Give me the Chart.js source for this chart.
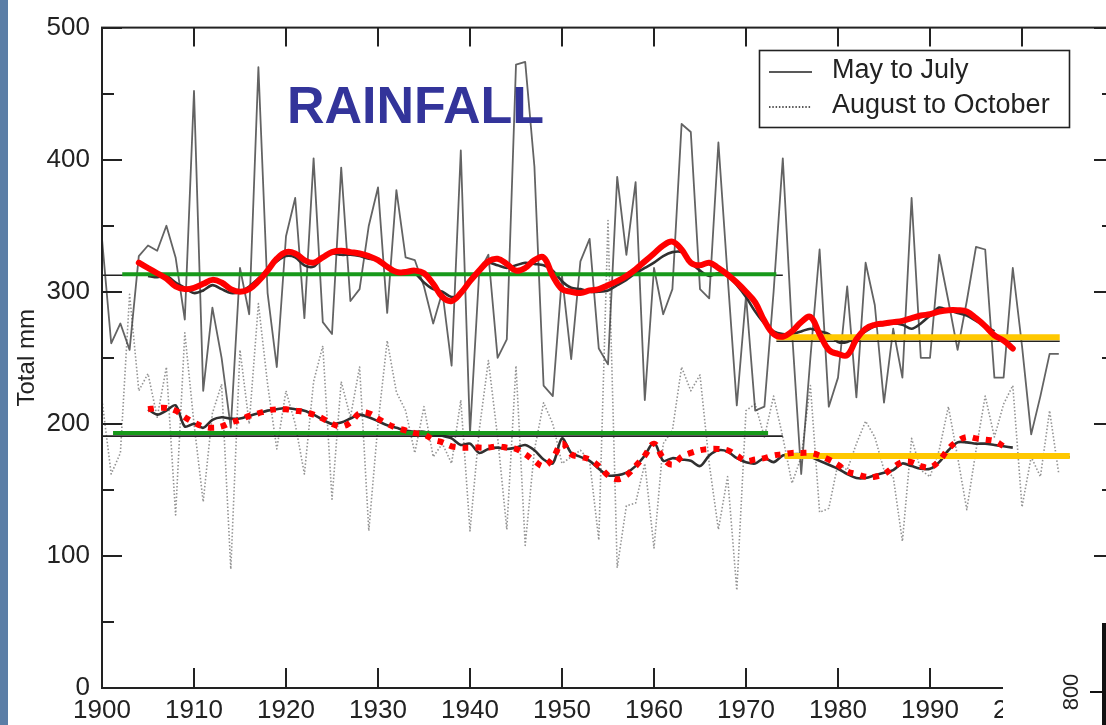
<!DOCTYPE html>
<html><head><meta charset="utf-8">
<script src="https://cdn.jsdelivr.net/npm/chart.js@4"></script>
<style>html,body{margin:0;padding:0;overflow:hidden;background:#fff;width:1106px;height:725px}canvas{display:block}</style>
</head><body><canvas id="c" width="1130" height="725"></canvas>
<script>
const FONT = "'Liberation Sans', Arial, Helvetica, sans-serif";

// Annual totals (mm)
const annualYears = [1900,1901,1902,1903,1904,1905,1906,1907,1908,1909,1910,1911,1912,1913,1914,1915,1916,1917,1918,1919,
1920,1921,1922,1923,1924,1925,1926,1927,1928,1929,1930,1931,1932,1933,1934,1935,1936,1937,1938,1939,
1940,1941,1942,1943,1944,1945,1946,1947,1948,1949,1950,1951,1952,1953,1954,1955,1956,1957,1958,1959,
1960,1961,1962,1963,1964,1965,1966,1967,1968,1969,1970,1971,1972,1973,1974,1975,1976,1977,1978,1979,
1980,1981,1982,1983,1984,1985,1986,1987,1988,1989,1990,1991,1992,1993,1994,1995,1996,1997,1998,1999,
2000,2001,2002,2003,2004];
const mayToJuly = [340,261,276,256,327,335,331,350,326,279, 452,225,288,250,197,318,283,470,299,243,
342,371,280,401,277,268,394,293,302,350, 379,284,377,326,324,304,276,300,244,407,
193,315,328,250,264,472,474,395,229,221, 312,249,323,340,257,245,387,328,383,218,
318,283,302,427,421,302,295,413,312,214, 297,210,213,300,401,270,162,250,332,213,
235,304,220,322,290,216,272,235,371,250, 250,328,293,256,293,334,332,235,235,318,
259,192,221,253,253];
const augToOct = [218,162,178,298,225,238,205,243,131,269, 200,141,208,230,90,256,200,291,230,181,
225,200,162,232,259,143,232,205,243,119, 200,263,224,210,178,213,175,185,170,218,
119,195,248,190,120,244,108,180,216,200, 170,175,180,172,112,354,91,138,140,170,
106,185,195,243,225,237,170,120,160,74, 210,215,190,221,190,155,175,229,133,136,
170,165,185,202,190,165,160,111,189,165, 160,180,213,175,135,180,221,190,215,229,
137,175,160,210,162];

// Smoothed curves (first year + yearly values)
const blackUpperStart = 1905;
const blackUpper = [312,311,312,307,303, 299,301,305,302,299,300,304,310,317,323,
327,326,320,319,326,329,328,328,327,325, 324,319,314,315,314,307,302,300,296,298,
308,316,322,320,318,320,322,321,320,316, 308,303,302,300,300,301,305,309,314,318,
322,327,330,330,322,316,312,314,312,305, 296,285,276,270,268,268,270,272,270,268,
262,262,266,270,274,275,276,275,272,276, 282,288,286,284,282,278,274,270];
const blackLowerStart = 1905;
const blackLower = [211,207,210,214,198, 200,197,203,205,204,204,206,208,210,211,
212,211,210,207,203,200,201,204,207,205, 202,199,197,195,194,194,192,191,189,184,
185,178,181,182,181,182,184,180,173,170, 189,178,175,172,166,161,161,163,168,176,
186,172,174,173,172,168,176,180,179,174, 171,170,174,171,176,177,177,175,172,169,
166,162,159,159,161,163,165,170,168,166, 166,171,180,186,186,185,185,184,183,182];
const redUpperStart = 1904;
const redUpper = [322,318,314,310,304,302, 303,306,309,307,302,300,302,308,316,325,
330,329,324,322,326,330,331,330,329,327, 324,319,315,315,316,314,306,296,293,299,
308,316,323,325,321,316,318,324,326,312, 302,300,299,301,302,305,308,312,317,323,
329,335,338,332,322,320,322,318,313,307, 300,292,278,268,266,270,277,281,268,256,
253,252,264,272,275,276,277,278,280,282, 283,285,286,286,285,280,274,267,263,257];
const redLowerStart = 1905;
const redLower = [211,212,212,210,205, 201,198,197,198,201,203,206,208,210,211,
211,210,209,207,204,200,198,201,208,208, 204,200,197,195,193,192,188,186,183,182,
182,182,182,183,182,181,177,172,168,174, 185,177,175,173,168,161,158,161,168,176,
185,174,169,175,178,180,181,181,180,176, 172,173,174,176,177,178,178,178,176,173,
169,164,162,160,160,162,167,171,171,168, 167,172,181,187,190,189,188,187,183];

// Period means: [fromYear, toYear, mm]
const blackMeans = [[1900,1974,312.5],[1900,1974,190.7],[1973.3,2004.1,262.5],[1974.2,2005.2,175]];
const greenMeans = [[1902.2,1973.3,313.3],[1901.2,1972.4,193]];
const yellowMeans = [[1973.3,2004.1,265.5],[1974.2,2005.2,175.7]];

const xTicks = [1900,1910,1920,1930,1940,1950,1960,1970,1980,1990,2000];
const legendLabels = ['May to July','August to October'];

const pairs = (ys, vs) => ys.map((yr,i)=>({x:yr,y:vs[i]}));
const series = (start, vs) => vs.map((v,i)=>({x:start+i,y:v}));
const seg = m => [{x:m[0],y:m[2]},{x:m[1],y:m[2]}];

const datasets = [];
datasets.push({label:legendLabels[0], data:pairs(annualYears,mayToJuly), borderColor:'rgba(55,55,55,0.78)', borderWidth:1.8, order:9});
datasets.push({label:legendLabels[1], data:pairs(annualYears,augToOct), borderColor:'rgba(80,80,80,0.62)', borderWidth:1.6, borderDash:[1.5,2], order:10});
datasets.push({label:'smooth1', data:series(blackUpperStart,blackUpper), borderColor:'#303030', borderWidth:2.6, tension:0.3, order:7});
datasets.push({label:'smooth2', data:series(blackLowerStart,blackLower), borderColor:'#303030', borderWidth:2.6, tension:0.3, order:7});
blackMeans.forEach((m,i)=>datasets.push({label:'bm'+i, data:seg(m), borderColor:'#222', borderWidth:1.6, order:6}));
greenMeans.forEach((m,i)=>datasets.push({label:'gm'+i, data:seg(m), borderColor:'#17991a', borderWidth:4, order:5}));
yellowMeans.forEach((m,i)=>datasets.push({label:'ym'+i, data:seg(m), borderColor:'#ffc800', borderWidth:6, order:4}));
datasets.push({label:'red1', data:series(redUpperStart,redUpper), borderColor:'#ff0000', borderWidth:6, tension:0.4, order:1, borderCapStyle:'round', borderJoinStyle:'round'});
datasets.push({label:'red2', data:series(redLowerStart,redLower), borderColor:'#ff0000', borderWidth:6, tension:0.4, borderDash:[6,7], order:2});

const framePlugin = {
  id:'frame',
  afterDatasetsDraw(chart){
    const {ctx, chartArea:a, scales:{x,y}} = chart;
    ctx.save();
    ctx.strokeStyle='#222'; ctx.lineWidth=2;
    ctx.strokeRect(a.left, a.top, a.right-a.left, a.bottom-a.top);
    ctx.beginPath();
    x.ticks.forEach(t=>{const px=Math.round(x.getPixelForValue(t.value));
      ctx.moveTo(px,a.bottom); ctx.lineTo(px,a.bottom-20); ctx.moveTo(px,a.top); ctx.lineTo(px,a.top+19);});
    y.ticks.forEach(t=>{const py=Math.round(y.getPixelForValue(t.value)); const L=(t.value%100===0)?20:12;
      ctx.moveTo(a.left,py); ctx.lineTo(a.left+L,py); ctx.moveTo(a.right,py); ctx.lineTo(a.right-L,py);});
    ctx.stroke();
    ctx.restore();
  },
  afterDraw(chart){
    const ctx = chart.ctx;
    ctx.save();
    // left stripe
    ctx.fillStyle='#5b7ea6'; ctx.fillRect(0,0,8,725);
    // title
    ctx.fillStyle='#33349a'; ctx.font='bold 52px '+FONT; ctx.textBaseline='alphabetic'; ctx.textAlign='left';
    ctx.fillText('RAINFALL',287,123);
    // legend
    ctx.fillStyle='#fff'; ctx.fillRect(759,50,311,78);
    ctx.strokeStyle='#222'; ctx.lineWidth=1.6; ctx.strokeRect(759.5,50.5,310,77);
    ctx.lineWidth=1.5; ctx.beginPath(); ctx.moveTo(769,72); ctx.lineTo(812,72); ctx.stroke();
    ctx.setLineDash([1.5,1.8]); ctx.lineWidth=1.3; ctx.beginPath(); ctx.moveTo(769,107); ctx.lineTo(811,107); ctx.stroke(); ctx.setLineDash([]);
    ctx.fillStyle='#222'; ctx.font='27px '+FONT;
    ctx.fillText(legendLabels[0],832,78);
    ctx.fillText(legendLabels[1],832,113);
    // cover + fragment of neighbouring chart
    ctx.fillStyle='#fff'; ctx.fillRect(1003,612,130,120);
    ctx.strokeStyle='#111'; ctx.lineWidth=4; ctx.beginPath(); ctx.moveTo(1104,623); ctx.lineTo(1104,725); ctx.stroke();
    ctx.lineWidth=2; ctx.beginPath(); ctx.moveTo(1090,692); ctx.lineTo(1104,692); ctx.stroke();
    ctx.fillStyle='#222';
    ctx.translate(1072,692); ctx.rotate(-Math.PI/2); ctx.textAlign='center'; ctx.textBaseline='middle';
    ctx.font='22px '+FONT; ctx.fillText('800',0,0);
    ctx.restore();
  }
};

new Chart(document.getElementById('c'), {
  type:'line',
  data:{datasets},
  options:{
    responsive:false, animation:false,
    elements:{point:{radius:0}, line:{borderJoinStyle:'round'}},
    layout:{padding:{top:22,right:16,left:0,bottom:0}},
    plugins:{legend:{display:false}, tooltip:{enabled:false}},
    scales:{
      x:{type:'linear', min:1900, max:2010,
        grid:{display:false, drawTicks:false}, border:{display:false},
        afterBuildTicks:(s)=>{s.ticks = xTicks.concat([2010]).map(v=>({value:v}));},
        ticks:{padding:7, autoSkip:false, maxRotation:0, color:'#222', font:{family:FONT,size:26},
          callback:(v)=> xTicks.includes(v) ? String(v) : ''},
        afterFit:(s)=>{s.height=37;}},
      y:{min:0, max:500,
        grid:{display:false, drawTicks:false}, border:{display:false},
        ticks:{stepSize:50, padding:12, autoSkip:false, color:'#222', font:{family:FONT,size:26},
          callback:(v)=> (v%100===0) ? String(v) : ''},
        title:{display:true, text:'Total mm', color:'#222', font:{family:FONT,size:24}, padding:{top:13,bottom:0}},
        afterFit:(s)=>{s.width=102;}}
    }
  },
  plugins:[framePlugin]
});
</script>
</body></html>
